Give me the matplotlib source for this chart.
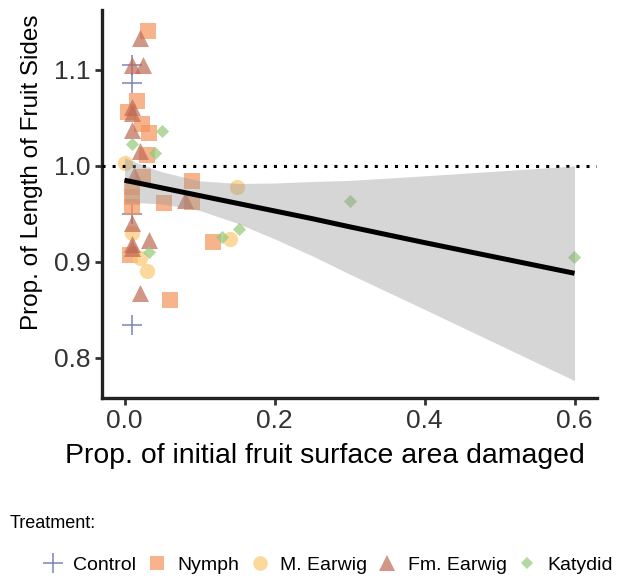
import matplotlib.pyplot as plt
from matplotlib.lines import Line2D

plt.rcParams['font.family'] = ['Liberation Sans', 'DejaVu Sans']

# points, per treatment
control_x = [0.010, 0.010, 0.010, 0.010]
control_y = [1.105, 1.086, 0.950, 0.834]

nymph_x = [0.031, 0.016, 0.005, 0.023, 0.032, 0.030, 0.025, 0.010, 0.010, 0.010,
           0.052, 0.007, 0.061, 0.090, 0.090, 0.118]
nymph_y = [1.141, 1.068, 1.056, 1.044, 1.034, 1.011, 0.988, 0.978, 0.968, 0.957,
           0.961, 0.907, 0.860, 0.984, 0.962, 0.921]

mearwig_x = [0.000, 0.010, 0.021, 0.030, 0.150, 0.141]
mearwig_y = [1.0025, 0.930, 0.9035, 0.890, 0.9775, 0.924]

fmearwig_x = [0.021, 0.0096, 0.024, 0.010, 0.010, 0.010, 0.021, 0.012, 0.010, 0.032,
              0.010, 0.010, 0.020, 0.080]
fmearwig_y = [1.133, 1.105, 1.105, 1.061, 1.055, 1.037, 1.015, 0.990, 0.940, 0.923,
              0.919, 0.914, 0.867, 0.964]

katydid_x = [0.050, 0.010, 0.041, 0.032, 0.130, 0.152, 0.301, 0.599]
katydid_y = [1.036, 1.023, 1.0135, 0.910, 0.926, 0.934, 0.9635, 0.905]

# fitted line and confidence band
fit_x = [0.0, 0.025, 0.05, 0.1, 0.15, 0.2, 0.25, 0.3, 0.4, 0.5, 0.6]
fit_y = [0.985, 0.981, 0.977, 0.969, 0.961, 0.953, 0.945, 0.9365, 0.920, 0.904, 0.888]
fit_lo = [0.9615, 0.9614, 0.9603, 0.9536, 0.9403, 0.9239, 0.9063, 0.8872, 0.8504,
          0.8133, 0.7761]
fit_hi = [1.0085, 1.0006, 0.9937, 0.9844, 0.9817, 0.9821, 0.9837, 0.9848, 0.9896,
          0.9947, 0.9999]

labels = ['Control', 'Nymph', 'M. Earwig', 'Fm. Earwig', 'Katydid']
colors = ['#5965a8', '#f4945c', '#fbc872', '#bf6a55', '#93c97a']
markers = ['+', 's', 'o', '^', 'D']
sizes = [210, 120, 120, 150, 45]

fig = plt.figure(figsize=(6.21, 5.8), dpi=100)
ax = fig.add_axes([0.1643, 0.3138, 0.7971, 0.669])

groups = [(control_x, control_y), (nymph_x, nymph_y), (mearwig_x, mearwig_y),
          (fmearwig_x, fmearwig_y), (katydid_x, katydid_y)]
for (gx, gy), c, m, s in zip(groups, colors, markers, sizes):
    if m == '+':
        ax.scatter(gx, gy, s=s, marker=m, c=c, alpha=0.8, linewidths=1.1, zorder=2)
    else:
        ax.scatter(gx, gy, s=s, marker=m, c=c, alpha=0.7, linewidths=0, zorder=2)

ax.axhline(1.0, color='black', linestyle=(0, (1, 2.3)), lw=2.2, zorder=3)
ax.fill_between(fit_x, fit_lo, fit_hi, color='#999999', alpha=0.4, lw=0, zorder=4)
ax.plot(fit_x, fit_y, color='black', lw=3.6, zorder=5, solid_capstyle='butt')

ax.set_xlim(-0.03, 0.63)
ax.set_ylim(0.758, 1.1625)
ax.set_xticks([0.0, 0.2, 0.4, 0.6])
ax.set_yticks([0.8, 0.9, 1.0, 1.1])
ax.set_xticklabels(['0.0', '0.2', '0.4', '0.6'])
ax.set_yticklabels(['0.8', '0.9', '1.0', '1.1'])

for side in ['top', 'right']:
    ax.spines[side].set_visible(False)
for side in ['left', 'bottom']:
    ax.spines[side].set_linewidth(2.4)
    ax.spines[side].set_color('#222222')
ax.tick_params(length=5, width=2.0, color='#333333', labelsize=19,
               labelcolor='#333333', pad=3)

ax.set_xlabel('Prop. of initial fruit surface area damaged', fontsize=20.4)
ax.set_ylabel('Prop. of Length of Fruit Sides', fontsize=17.5)
ax.xaxis.set_label_coords(0.45, -0.115)
ax.yaxis.set_label_coords(-0.12, 0.582)

fig.text(0.016, 1 - 523 / 580, 'Treatment:', fontsize=13, va='center', ha='left')

handles = []
for c, m, s in zip(colors, markers, sizes):
    if m == '+':
        h = Line2D([], [], ls='none', marker=m, color=c, alpha=0.8, ms=15, mew=1.1)
    else:
        ms = {'s': 10, 'o': 10.5, '^': 11.5, 'D': 6.2}[m]
        h = Line2D([], [], ls='none', marker=m, color=c, alpha=0.7, ms=ms, mew=0)
    handles.append(h)

fig.legend(handles, labels, ncol=5, loc='center', bbox_to_anchor=(0.527, 1 - 565 / 580),
           frameon=False, fontsize=14, handlelength=1.2, handletextpad=0.45,
           columnspacing=0.45, borderpad=0)

fig.savefig('out.png', dpi=100)
